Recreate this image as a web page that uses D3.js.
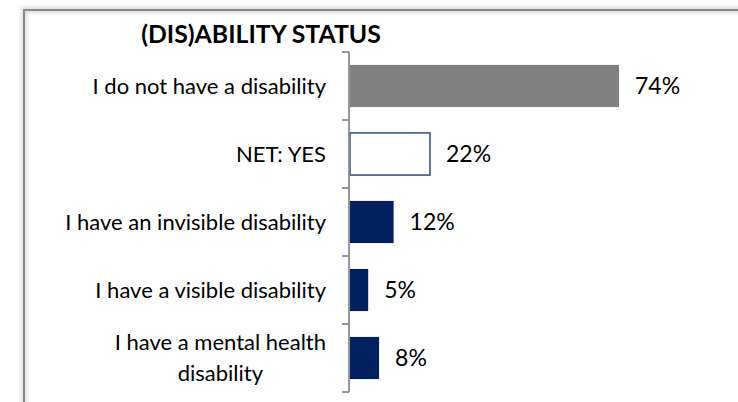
<!DOCTYPE html>
<html>
<head>
<meta charset="utf-8">
<script src="https://cdn.jsdelivr.net/npm/d3@7"></script>
<style>
  html, body { margin: 0; padding: 0; background: #fff; overflow: hidden; }
  svg { display: block; overflow: hidden; }
</style>
</head>
<body>
<svg id="chart" width="738" height="402"></svg>
<script>
// Survey results: (dis)ability status
const categories = [
  "I do not have a disability",
  "NET: YES",
  "I have an invisible disability",
  "I have a visible disability",
  "I have a mental health disability"
];
const values = [74, 22, 12, 5, 8];
const valueLabels = ["74%", "22%", "12%", "5%", "8%"];
const title = "(DIS)ABILITY STATUS";

const FONT = "Lato, 'Open Sans', sans-serif";
const W = 738, H = 402;
const svg = d3.select("#chart");

// Frame (top and left edges run off the canvas) with a soft shadow
const defs = svg.append("defs");
defs.append("filter").attr("id", "soft")
  .attr("filterUnits", "userSpaceOnUse")
  .attr("x", 0).attr("y", 0).attr("width", W).attr("height", H)
  .append("feGaussianBlur").attr("stdDeviation", 2.2);

const framePath = `M24,${H + 20}V10H${W + 20}`;
svg.append("path").attr("d", framePath)
  .attr("fill", "none").attr("stroke", "#d4d4d4").attr("stroke-width", 5)
  .attr("filter", "url(#soft)");
svg.append("path").attr("d", framePath)
  .attr("fill", "none").attr("stroke", "#8a8a8a").attr("stroke-width", 2);

// Scales
const x0 = 350;
const x = d3.scaleLinear().domain([0, 100]).range([x0, x0 + 363.5]);
const y = d3.scaleBand().domain(categories).range([52, 392])
  .paddingInner(0.38).paddingOuter(0.19);

// Title
svg.append("text")
  .attr("x", 261).attr("y", 42.5)
  .attr("text-anchor", "middle")
  .attr("font-family", FONT).attr("font-weight", "bold")
  .attr("font-size", 24.8).attr("fill", "#000")
  .text(title);

// Bars
const fills = ["#808080", "#ffffff", "#002060", "#002060", "#002060"];
const strokes = ["none", "#2f4b85", "none", "none", "none"];
svg.append("g").selectAll("rect")
  .data(categories)
  .join("rect")
  .attr("x", x(0))
  .attr("y", d => y(d))
  .attr("width", (d, i) => x(values[i]) - x(0))
  .attr("height", y.bandwidth())
  .attr("fill", (d, i) => fills[i])
  .attr("stroke", (d, i) => strokes[i])
  .attr("stroke-width", 1.5);

// Axis line with ticks between categories
const axis = svg.append("g").attr("stroke", "#8c8c8c").attr("stroke-width", 1.8).attr("fill", "none");
const [r0, r1] = y.range();
axis.append("line").attr("x1", x0 - 1).attr("x2", x0 - 1).attr("y1", r0).attr("y2", r1);
const boundaries = d3.range(categories.length + 1).map(i => r0 + i * y.step());
axis.selectAll("line.tick")
  .data(boundaries)
  .join("line")
  .attr("class", "tick")
  .attr("x1", x0 - 8).attr("x2", x0 - 1)
  .attr("y1", d => d).attr("y2", d => d);

// Category labels (wrapped lines centred within the label block)
const labelRight = 326;
const wrapped = {
  "I have a mental health disability": ["I have a mental health", "disability"]
};
const lab = svg.append("g")
  .attr("font-family", FONT).attr("font-size", 22).attr("fill", "#000");
categories.forEach(c => {
  const cy = y(c) + y.bandwidth() / 2;
  const lines = wrapped[c] || [c];
  const lh = 31;
  const g = lab.append("g");
  const texts = lines.map((t, i) =>
    g.append("text")
      .attr("y", cy + (i - (lines.length - 1) / 2) * lh)
      .attr("dy", "0.35em")
      .text(t));
  const widths = texts.map(t => t.node().getComputedTextLength());
  const maxW = d3.max(widths);
  const centre = labelRight - maxW / 2;
  texts.forEach(t => t.attr("x", centre).attr("text-anchor", "middle"));
});

// Value labels
svg.append("g")
  .attr("font-family", FONT).attr("font-size", 23).attr("fill", "#000")
  .selectAll("text")
  .data(categories)
  .join("text")
  .attr("x", (d, i) => x(values[i]) + 16)
  .attr("y", d => y(d) + y.bandwidth() / 2)
  .attr("dy", "0.36em")
  .text((d, i) => valueLabels[i]);
</script>
</body>
</html>
